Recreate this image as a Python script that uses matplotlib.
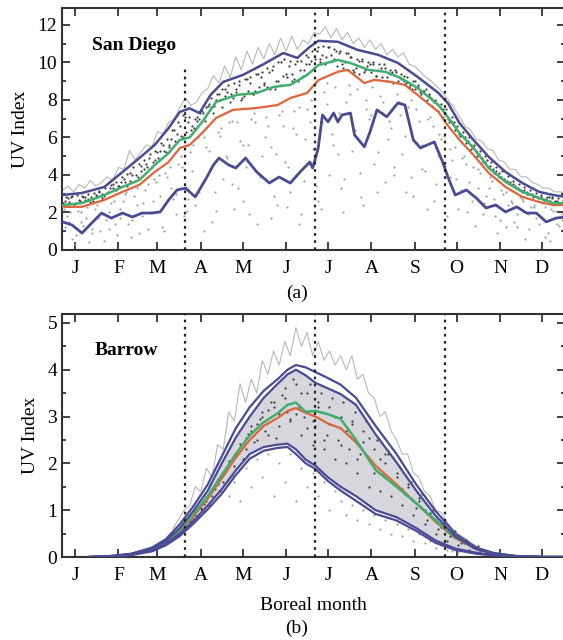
import numpy as np
import matplotlib
matplotlib.use("Agg")
import matplotlib.pyplot as plt
from matplotlib.ticker import MultipleLocator

plt.rcParams['font.family'] = ['Liberation Serif', 'DejaVu Serif']

months = ['J', 'F', 'M', 'A', 'M', 'J', 'J', 'A', 'S', 'O', 'N', 'D']
month_start = [0, 31, 59, 90, 120, 151, 181, 212, 243, 273, 304, 334]
equinox_solstice = [79, 172, 265]

# ---------------- San Diego ----------------
sd_p95_day = [-9, 5, 21, 34, 46, 57, 67, 75, 82, 89, 97, 106, 120, 134, 149, 159, 168, 174,
              188, 202, 217, 231, 245, 260, 267, 275, 285, 296, 308, 320, 332, 342, 351]
sd_p95 = [2.93, 3.04, 3.36, 4.16, 4.9, 5.6, 6.5, 7.36, 7.55, 7.3, 8.27, 8.96, 9.33, 9.87, 10.5, 10.24,
          10.83, 11.15, 11.1, 10.67, 10.4, 9.97, 9.23, 8.37, 7.8, 6.77, 5.87, 4.96, 4.16, 3.57, 3.1,
          2.93, 2.83]

sd_mean_day = [-9, 5, 21, 34, 46, 57, 67, 75, 82, 91, 101, 116, 130, 142, 154, 166, 174, 188, 197,
               210, 222, 233, 245, 260, 266, 275, 285, 296, 308, 320, 332, 342, 351]
sd_mean = [2.4, 2.5, 2.93, 3.36, 3.73, 4.53, 5.17, 5.87, 6.0, 6.83, 7.9, 8.27, 8.37, 8.69, 8.8, 9.33,
           9.85, 10.13, 9.97, 9.6, 9.5, 9.17, 8.64, 7.73, 7.15, 6.24, 5.44, 4.37, 3.63, 3.1, 2.77,
           2.5, 2.5]

sd_median_day = [-9, 5, 21, 34, 46, 57, 67, 75, 82, 91, 101, 113, 130, 145, 154, 166, 174, 188, 195,
                 207, 214, 226, 236, 245, 260, 266, 275, 285, 296, 308, 320, 332, 342, 351]
sd_median = [2.3, 2.3, 2.67, 3.1, 3.47, 4.16, 4.69, 5.44, 5.6, 6.24, 7.04, 7.47, 7.57, 7.73, 8.1,
             8.37, 9.05, 9.5, 9.6, 8.9, 9.07, 8.96, 8.8, 8.27, 7.36, 6.7, 5.87, 5.07, 4.1, 3.36,
             2.83, 2.56, 2.4, 2.4]

sd_p5_day = [-9, -2, 5, 12, 19, 26, 34, 41, 48, 55, 61, 67, 73, 79, 82, 86, 94, 99, 103, 110, 115,
             122, 130, 139, 146, 154, 161, 168, 170, 174, 177, 181, 185, 188, 191, 197, 200, 207,
             211, 216, 223, 231, 236, 242, 247, 252, 257, 263, 267, 272, 280, 287, 294, 301, 308,
             316, 323, 330, 337, 344, 351]
sd_p5 = [1.5, 1.33, 0.9, 1.44, 1.97, 1.7, 1.97, 1.76, 1.97, 1.97, 2.03, 2.67, 3.2, 3.3, 3.1, 2.83,
         3.84, 4.53, 4.9, 4.53, 4.37, 4.9, 4.16, 3.57, 3.89, 3.57, 4.16, 4.69, 4.37, 5.44, 7.2, 6.83,
         7.3, 6.83, 7.2, 7.3, 6.13, 5.5, 6.29, 7.47, 7.1, 7.84, 7.73, 5.87, 5.44, 5.6, 5.76, 4.69,
         3.84, 2.93, 3.2, 2.77, 2.24, 2.4, 2.03, 2.3, 1.97, 1.97, 1.5, 1.7, 1.76]

# daily maximum, every 4th day from day -9
sd_max = [3.2, 3.4, 3.1, 3.5, 3.3, 3.7, 3.4, 3.6, 3.9, 3.7, 4.4, 4.3, 5.3, 4.8, 5.2, 5.6, 5.5, 6.3,
          6.2, 6.8, 7.0, 7.6, 8.1, 7.7, 7.9, 8.4, 8.6, 9.3, 8.9, 9.8, 9.2, 10.3, 9.6, 10.6, 9.9, 10.8,
          10.2, 11.0, 10.4, 11.3, 10.6, 11.4, 10.7, 11.2, 11.0, 11.6, 11.5, 11.9, 11.3, 11.8, 11.2,
          11.6, 11.0, 11.3, 10.8, 11.2, 10.7, 11.0, 10.4, 10.7, 10.3, 10.5, 9.9, 9.8, 9.5, 9.2, 9.0,
          8.7, 8.4, 8.0, 7.6, 7.1, 6.6, 6.4, 5.9, 5.8, 5.4, 5.3, 4.8, 4.7, 4.3, 4.3, 3.9, 3.9, 3.6,
          3.5, 3.3, 3.3, 3.1, 3.1, 3.0]

# single-day values: clear-sky days (dark) and cloudy days (light)
sd_dots_a = [2.6, 2.8, 2.5, 2.9, 2.7, 2.6, 3.1, 2.9, 3.3, 3.2, 3.6, 3.4, 4.0, 3.9, 4.3, 4.9, 4.8,
             5.3, 5.2, 5.9, 6.2, 6.0, 6.8, 6.5, 7.0, 6.9, 7.6, 8.0, 7.6, 8.4, 8.1, 8.8, 8.2, 8.9,
             8.5, 9.2, 8.7, 9.6, 9.0, 9.3, 9.8, 9.1, 9.6, 9.9, 10.1, 10.6, 10.4, 10.8, 10.2, 10.5,
             10.0, 10.3, 9.7, 10.2, 9.8, 10.0, 9.6, 9.9, 9.4, 9.6, 9.1, 8.9, 8.6, 8.8, 8.5, 8.2,
             7.9, 7.6, 7.3, 6.9, 6.4, 6.1, 5.8, 5.5, 5.1, 4.7, 4.5, 4.2, 3.9, 3.7, 3.5, 3.3, 3.2,
             3.0, 2.9, 2.8, 2.7, 2.75, 2.6, 2.65]
sd_dots_b = [2.75, 2.45, 2.65, 2.8, 2.55, 2.95, 2.75, 3.05, 3.5, 3.4, 3.8, 4.1, 3.7, 4.5, 4.6, 4.4,
             5.2, 5.6, 5.5, 6.4, 6.6, 7.1, 6.4, 6.9, 7.4, 7.7, 7.3, 8.3, 8.6, 7.9, 8.6, 8.0, 9.1,
             8.3, 9.4, 8.8, 9.5, 8.6, 10.0, 9.4, 9.0, 10.1, 9.3, 10.3, 9.7, 10.2, 9.9, 10.4, 10.6,
             9.9, 10.5, 9.6, 10.1, 9.5, 9.9, 9.3, 9.7, 9.2, 9.5, 9.0, 9.3, 8.7, 9.0, 8.4, 8.6, 8.1,
             7.8, 7.5, 7.0, 6.8, 6.2, 6.0, 5.6, 5.3, 4.9, 4.8, 4.3, 4.1, 3.8, 3.6, 3.4, 3.2, 3.1,
             3.0, 2.8, 2.7, 2.8, 2.6, 2.5, 2.55]
sd_dots_e = [2.5, 2.55, 2.45, 2.6, 2.65, 2.8, 2.9, 3.0, 3.1, 3.3, 3.4, 3.6, 3.7, 4.0, 4.2, 4.4,
             4.7, 4.9, 5.3, 5.6, 5.8, 6.1, 6.3, 6.6, 7.1, 7.3, 7.8, 7.7, 8.0, 8.2, 8.3, 8.4, 8.1,
             8.5, 8.3, 8.7, 8.9, 8.6, 9.0, 8.8, 9.2, 9.4, 9.0, 9.6, 9.9, 10.2, 10.0, 10.3, 10.1,
             9.8, 9.7, 9.6, 9.5, 9.4, 9.6, 9.5, 9.3, 9.2, 9.0, 8.9, 9.2, 9.0, 8.8, 8.6, 8.3, 8.0,
             7.7, 7.4, 7.1, 6.8, 6.4, 6.1, 5.7, 5.4, 5.0, 4.7, 4.4, 4.1, 3.9, 3.7, 3.5, 3.3, 3.1,
             3.0, 2.85, 2.75, 2.65, 2.6, 2.55, 2.5]
sd_dots_f = [2.85, 2.9, 2.95, 2.85, 3.0, 3.05, 3.15, 3.3, 3.45, 3.6, 3.9, 4.05, 4.4, 4.6, 4.8,
             5.1, 5.3, 5.7, 5.9, 6.4, 6.8, 7.2, 7.1, 7.0, 7.3, 7.6, 8.1, 8.3, 8.6, 8.8, 8.9, 9.0,
             9.1, 9.2, 9.4, 9.5, 9.7, 9.8, 10.0, 10.2, 10.1, 9.9, 10.1, 10.4, 10.6, 10.8, 10.9,
             10.8, 10.7, 10.6, 10.5, 10.3, 10.2, 10.1, 10.0, 9.9, 9.9, 9.7, 9.6, 9.5, 9.4, 9.2,
             9.0, 8.7, 8.5, 8.3, 8.0, 7.8, 7.5, 7.1, 6.6, 6.3, 6.0, 5.6, 5.3, 5.0, 4.7, 4.4, 4.2,
             3.95, 3.7, 3.5, 3.35, 3.2, 3.05, 2.95, 2.85, 2.8, 2.75, 2.7]
sd_dots_c = [1.8, 0.6, 2.1, 1.3, 0.4, 2.2, 1.0, 1.6, 2.5, 0.8, 2.6, 1.4, 2.9, 0.9, 3.2, 2.0, 3.6,
             1.2, 3.9, 2.7, 4.6, 1.8, 5.2, 2.4, 3.4, 5.5, 1.5, 6.3, 3.8, 6.8, 2.2, 5.8, 4.4, 7.0,
             1.4, 5.0, 6.6, 2.9, 7.2, 4.7, 3.1, 6.2, 1.9, 7.5, 5.4, 2.6, 8.4, 4.0, 8.7, 3.3, 7.9,
             5.3, 8.6, 2.4, 7.0, 4.6, 8.2, 3.6, 6.5, 8.3, 5.1, 7.6, 2.9, 6.9, 4.2, 7.1, 3.5, 5.9,
             1.8, 4.8, 2.2, 5.0, 3.6, 1.3, 4.1, 2.9, 3.7, 0.9, 3.0, 2.4, 1.5, 2.8, 0.6, 2.3, 1.7,
             2.5, 0.9, 2.1, 1.3, 2.2]
sd_dots_d = [2.2, 1.5, 0.3, 2.0, 1.7, 0.9, 2.4, 1.9, 1.1, 2.6, 1.7, 3.0, 0.7, 2.4, 1.8, 3.5, 2.6,
             4.0, 1.0, 4.4, 3.0, 5.0, 2.1, 4.2, 6.0, 1.0, 5.3, 3.1, 6.1, 5.0, 3.5, 6.8, 2.6, 5.6,
             7.3, 3.9, 6.0, 1.7, 5.1, 7.4, 2.3, 6.5, 7.6, 3.7, 6.8, 4.8, 2.2, 7.8, 6.2, 5.1, 2.0,
             8.8, 6.4, 4.1, 8.0, 7.2, 3.1, 7.9, 5.9, 4.4, 7.9, 6.1, 3.9, 7.5, 5.6, 2.2, 6.6, 5.0,
             6.1, 3.9, 5.5, 3.2, 4.6, 2.6, 4.3, 1.9, 3.3, 2.7, 1.6, 3.1, 2.6, 1.2, 2.7, 1.9, 2.4,
             1.4, 2.3, 0.5, 2.1, 1.6]
sd_dots_g = [1.2, 2.0, 0.8, 1.5, 2.3, 1.1, 1.7, 0.5, 2.0, 1.4, 2.2, 3.1, 1.6, 3.3, 2.5, 1.1, 3.8,
             2.9, 4.1, 3.3, 1.9, 4.4, 2.7, 5.6, 3.1, 6.0, 4.3, 2.1, 6.5, 4.9, 6.9, 3.3, 5.6, 1.9,
             6.8, 4.0, 7.1, 5.5, 2.4, 6.6, 4.4, 7.4, 1.4, 5.9, 8.0, 3.4, 6.8, 8.9, 5.6, 7.3, 3.8,
             8.3, 6.1, 2.8, 7.5, 8.7, 5.2, 7.3, 6.9, 4.0, 7.2, 3.1, 8.0, 5.7, 4.3, 7.0, 2.6, 6.2,
             4.5, 5.4, 3.8, 4.9, 2.0, 4.4, 3.3, 2.5, 3.9, 1.8, 3.2, 1.2, 2.5, 1.9, 2.6, 1.1, 2.3,
             1.8, 0.7, 2.2, 1.4, 1.9]

# ---------------- Barrow ----------------
br_day = [10, 25, 40, 55, 65, 75, 85, 95, 105, 115, 125, 135, 145, 152, 158, 165, 172, 181, 190,
          201, 215, 230, 244, 258, 272, 287, 300, 315, 335, 351]
br_p95 = [0, 0.02, 0.07, 0.2, 0.38, 0.7, 1.1, 1.55, 2.15, 2.75, 3.2, 3.55, 3.8, 4.0, 4.1, 4.05,
          3.95, 3.82, 3.68, 3.4, 2.8, 2.2, 1.55, 0.98, 0.5, 0.2, 0.08, 0.02, 0, 0]
br_p90 = [0, 0.02, 0.06, 0.18, 0.34, 0.62, 1.0, 1.42, 2.0, 2.55, 3.0, 3.4, 3.7, 3.9, 4.0, 3.88,
          3.72, 3.6, 3.48, 3.25, 2.62, 2.02, 1.42, 0.88, 0.44, 0.17, 0.07, 0.02, 0, 0]
br_mean = [0, 0.01, 0.06, 0.17, 0.32, 0.58, 0.92, 1.3, 1.75, 2.2, 2.6, 2.88, 3.07, 3.25, 3.3, 3.1,
           3.12, 3.05, 2.95, 2.5, 1.86, 1.5, 1.15, 0.78, 0.42, 0.18, 0.08, 0.02, 0, 0]
br_median = [0, 0.01, 0.05, 0.16, 0.3, 0.55, 0.88, 1.25, 1.68, 2.12, 2.5, 2.8, 2.97, 3.12, 3.18,
             3.08, 3.0, 2.85, 2.75, 2.45, 1.95, 1.55, 1.15, 0.75, 0.4, 0.17, 0.07, 0.02, 0, 0]
br_p10 = [0, 0.01, 0.05, 0.14, 0.28, 0.5, 0.78, 1.1, 1.45, 1.85, 2.2, 2.35, 2.4, 2.42, 2.3, 2.08,
          1.95, 1.7, 1.5, 1.3, 1.0, 0.85, 0.62, 0.35, 0.18, 0.09, 0.04, 0.01, 0, 0]
br_p5 = [0, 0.01, 0.04, 0.12, 0.25, 0.45, 0.72, 1.02, 1.35, 1.75, 2.1, 2.27, 2.33, 2.35, 2.2, 2.0,
         1.88, 1.62, 1.42, 1.2, 0.92, 0.78, 0.56, 0.3, 0.15, 0.07, 0.03, 0.01, 0, 0]

# daily maximum, every 4th day from day 70
br_max = [0.6, 0.8, 1.0, 1.1, 1.5, 1.4, 1.9, 1.7, 2.4, 2.3, 3.1, 2.9, 3.7, 3.3, 3.8, 3.5, 4.2, 3.9,
          4.4, 4.1, 4.6, 4.3, 4.9, 4.5, 4.8, 4.3, 4.6, 4.2, 4.4, 4.1, 4.3, 4.0, 4.3, 3.8, 3.9, 3.5,
          3.4, 3.0, 3.1, 2.7, 2.5, 2.2, 2.2, 1.8, 1.7, 1.4, 1.3, 1.0, 0.95, 0.75, 0.6, 0.5, 0.42,
          0.33, 0.25, 0.18]

br_dots_e = [0.26, 0.33, 0.44, 0.52, 0.68, 0.75, 0.98, 1.02, 1.28, 1.3, 1.66, 1.6, 2.05, 1.95,
             2.42, 2.3, 2.8, 2.5, 3.1, 2.6, 3.3, 2.8, 3.6, 2.9, 3.7, 2.6, 3.5, 2.4, 3.3, 2.3, 3.2,
             2.1, 3.0, 2.0, 2.9, 1.8, 2.7, 1.5, 2.3, 1.4, 2.0, 1.3, 1.8, 1.1, 1.5, 0.9, 1.2, 0.7,
             0.9, 0.5, 0.65, 0.35, 0.44, 0.25, 0.3, 0.16, 0.19, 0.12]
br_dots_f = [0.27, 0.35, 0.42, 0.56, 0.62, 0.84, 0.88, 1.14, 1.12, 1.45, 1.42, 1.85, 1.75, 2.2,
             2.1, 2.62, 2.45, 2.95, 2.7, 3.3, 2.55, 3.45, 3.1, 3.8, 3.2, 3.0, 3.7, 2.8, 3.5, 2.6,
             3.4, 2.5, 3.3, 2.3, 3.1, 2.2, 2.9, 2.0, 2.5, 1.75, 2.2, 1.55, 1.95, 1.35, 1.6, 1.05,
             1.35, 0.8, 1.0, 0.6, 0.72, 0.45, 0.55, 0.3, 0.36, 0.22, 0.24, 0.14]
br_dots_g = [0.34, 0.4, 0.5, 0.65, 0.78, 0.9, 1.05, 1.2, 1.4, 1.55, 1.75, 1.98, 2.15, 2.35, 2.55,
             2.7, 2.85, 3.0, 3.15, 3.2, 3.05, 3.4, 2.95, 3.05, 3.5, 2.75, 2.9, 3.2, 2.5, 2.85, 3.0,
             2.4, 2.7, 2.85, 2.1, 2.45, 2.55, 1.8, 2.1, 2.2, 1.6, 1.7, 1.45, 1.55, 1.2, 1.25, 1.0,
             0.95, 0.78, 0.7, 0.55, 0.5, 0.4, 0.33, 0.28, 0.2, 0.17, 0.12]
br_dots_h = [1.3, 1.6, 1.2, 1.9, 1.5, 2.1, 1.7, 2.2, 1.3, 2.0, 1.6, 2.2, 1.2, 1.9, 1.5, 1.8, 1.3,
             1.6, 1.0, 1.4, 1.2, 0.9, 1.1, 0.8, 1.0, 0.7, 0.9, 0.6, 0.8, 0.5, 0.7, 0.45, 0.6, 0.35,
             0.5, 0.3, 0.35, 0.2, 0.25, 0.15, 0.12, 0.1]

BLUE = '#4b4a95'
GREEN = '#3fae6e'
ORANGE = '#e0643a'
GRAYLINE = '#b8b8b8'
DARKDOT = '#3a3a3a'
LIGHTDOT = '#a0a0a0'


def every4(start, vals):
    return np.arange(len(vals)) * 4 + start


def style_axes(ax, ymax, ymajor, yminor):
    ax.set_xlim(-9.3, 350.5)
    ax.set_ylim(0, ymax)
    ax.set_xticks(month_start)
    ax.set_xticklabels(months)
    ax.yaxis.set_major_locator(MultipleLocator(ymajor))
    ax.yaxis.set_minor_locator(MultipleLocator(yminor))
    ax.tick_params(which='both', direction='in', top=True, right=True, labelsize=14,
                   width=1.3, color='#333333')
    ax.tick_params(which='major', length=6)
    ax.tick_params(which='minor', length=3)
    ax.tick_params(axis='x', pad=7)
    for s in ax.spines.values():
        s.set_linewidth(1.5)
        s.set_color('#333333')
    ax.set_ylabel('UV Index', fontsize=14, labelpad=6)


fig = plt.figure(figsize=(5.63, 6.40), dpi=100)
ax1 = fig.add_axes([62 / 563, 1 - 250 / 640, 503 / 563, 242 / 640])
ax2 = fig.add_axes([62 / 563, 1 - 557 / 640, 503 / 563, 243 / 640])

# San Diego
ax1.plot(every4(-9, sd_max), sd_max, color=GRAYLINE, lw=0.8, zorder=1)
for start, vals in ((-6, sd_dots_c), (-8, sd_dots_d), (-7.5, sd_dots_g)):
    ax1.scatter(every4(start, vals), vals, s=2.5, color=LIGHTDOT, lw=0, zorder=2)
for start, vals in ((-7, sd_dots_a), (-5, sd_dots_b), (-8.5, sd_dots_e), (-6.5, sd_dots_f)):
    ax1.scatter(every4(start, vals), vals, s=2.5, color=DARKDOT, lw=0, zorder=2)
ax1.plot(sd_median_day, sd_median, color=ORANGE, lw=1.6, zorder=3)
ax1.plot(sd_mean_day, sd_mean, color=GREEN, lw=1.8, zorder=3)
ax1.plot(sd_p95_day, sd_p95, color=BLUE, lw=1.8, zorder=4)
ax1.plot(sd_p5_day, sd_p5, color=BLUE, lw=2.0, zorder=4)
for i, d in enumerate(equinox_solstice):
    ax1.axvline(d, ymax=0.757 if i == 0 else 1, color='#222222', ls=(0, (1.2, 2)), lw=1.6, zorder=5)
ax1.text(12, 10.9, 'San Diego', fontsize=14, fontweight='bold', va='center', ha='left')
style_axes(ax1, 12.9, 2, 1)

# Barrow
ax2.fill_between(br_day, br_p10, br_p90, color='#d6d6dc', lw=0, zorder=1)
ax2.plot(every4(70, br_max), br_max, color=GRAYLINE, lw=0.8, zorder=1)
ax2.scatter(every4(110, br_dots_h), br_dots_h, s=2.5, color=LIGHTDOT, lw=0, zorder=2)
for start, vals in ((62, br_dots_e), (64, br_dots_f), (66, br_dots_g)):
    ax2.scatter(every4(start, vals), vals, s=2.5, color=DARKDOT, lw=0, zorder=2)
ax2.plot(br_day, br_median, color=ORANGE, lw=1.6, zorder=3)
ax2.plot(br_day, br_mean, color=GREEN, lw=1.8, zorder=3)
for vals in (br_p95, br_p90, br_p10, br_p5):
    ax2.plot(br_day, vals, color=BLUE, lw=1.6, zorder=4)
for d in equinox_solstice:
    ax2.axvline(d, color='#222222', ls=(0, (1.2, 2)), lw=1.6, zorder=5)
ax2.text(14, 4.4, 'Barrow', fontsize=14, fontweight='bold', va='center', ha='left')
style_axes(ax2, 5.19, 1, 0.5)

fig.text(297 / 563, 1 - 293 / 640, '(a)', fontsize=14, ha='center', va='center')
fig.text(313 / 563, 1 - 605 / 640, 'Boreal month', fontsize=14, ha='center', va='center')
fig.text(297 / 563, 1 - 628 / 640, '(b)', fontsize=14, ha='center', va='center')

fig.savefig('out.png', dpi=100)
